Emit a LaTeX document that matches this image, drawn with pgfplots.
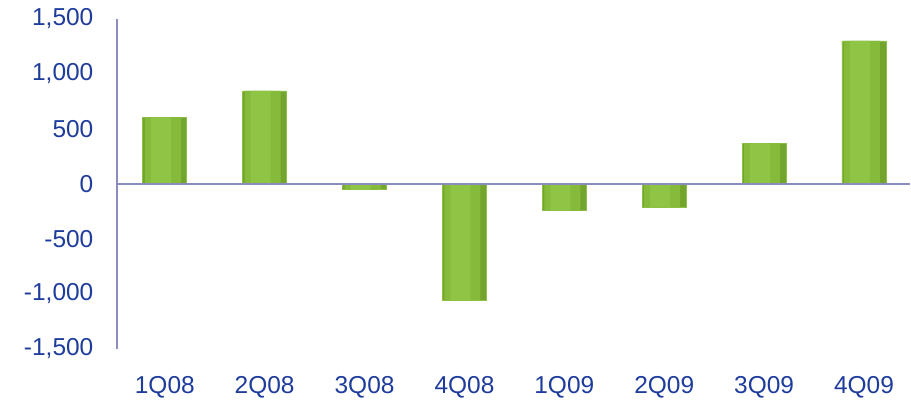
\documentclass[border=0pt]{standalone}
\usepackage{pgfplots}
\usepackage{pgfplotstable}
\pgfplotsset{compat=1.18}
\usepackage{fontspec}
\setmainfont{Liberation Sans}
\definecolor{txtblue}{HTML}{1E3C9C}
\definecolor{axcol}{HTML}{8A8CBD}
\definecolor{gdark}{HTML}{73A42E}
\definecolor{gmain}{HTML}{86BA3A}
\definecolor{glight}{HTML}{8FC444}
\definecolor{gedge}{HTML}{8CC048}
\pgfplotstableread{
x y
0 605
1 845
2 -55
3 -1060
4 -245
5 -212
6 367
7 1300
}\data
\begin{document}
\begin{tikzpicture}
\begin{axis}[
  scale only axis,
  width=794pt, height=330pt,
  xmin=-0.48, xmax=7.46,
  ymin=-1500, ymax=1500,
  axis lines*=left,
  x axis line style={draw=none},
  y axis line style={draw=axcol, line width=2.2pt},
  xtick={0,...,7},
  xticklabels={1Q08,2Q08,3Q08,4Q08,1Q09,2Q09,3Q09,4Q09},
  ytick={-1500,-1000,...,1500},
  major tick length=0pt,
  tick label style={font=\fontsize{24.5}{28}\selectfont, text=txtblue},
  yticklabel style={xshift=-20pt},
  xticklabel style={yshift=-24pt},
  /pgf/number format/.cd, 1000 sep={,}, assume math mode=true,
  /pgfplots/.cd,
  clip=false,
]
\addplot[ybar, bar width=44pt, bar shift=0pt, fill=gdark, draw=gedge, line width=0.8pt] table[x=x,y=y] {\data};
\addplot[ybar, bar width=36pt, bar shift=-2pt, fill=gmain, draw=none] table[x=x,y=y] {\data};
\addplot[ybar, bar width=20pt, bar shift=-4pt, fill=glight, draw=none] table[x=x,y=y] {\data};
\draw[axcol, line width=2.2pt] (axis cs:-0.48,0) -- (axis cs:7.46,0);
\end{axis}
\path[use as bounding box] ([xshift=-117pt,yshift=-52pt]current axis.south west) rectangle ([yshift=19pt]current axis.north east);
\end{tikzpicture}
\end{document}
